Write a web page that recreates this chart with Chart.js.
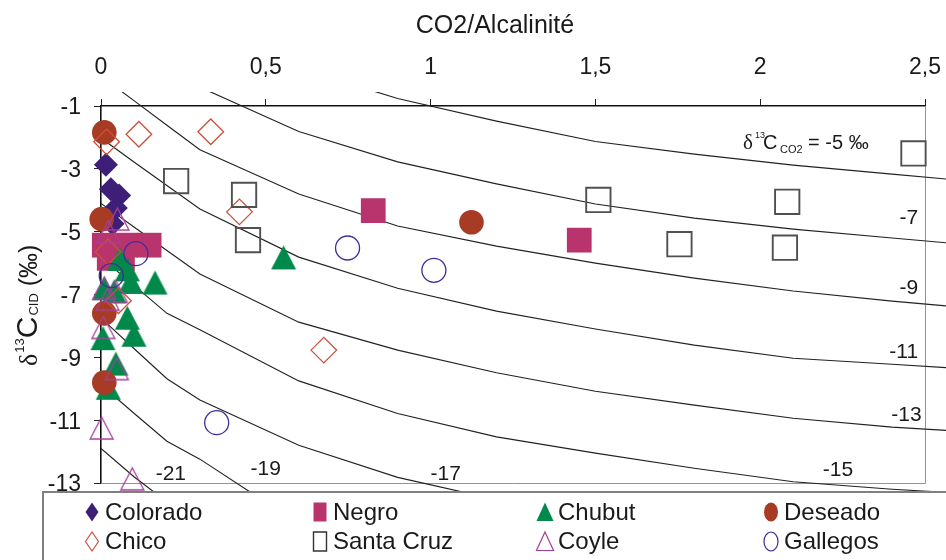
<!DOCTYPE html>
<html>
<head>
<meta charset="utf-8">
<script src="https://cdn.jsdelivr.net/npm/chart.js@4.4.0/dist/chart.umd.min.js"></script>
<style>
html,body{margin:0;padding:0;background:#ffffff;}
canvas{display:block;}
</style>
</head>
<body>
<canvas id="c" width="946" height="560"></canvas>
<script>
// ---------- axis ticks ----------
const xTickValues = [0, 0.5, 1, 1.5, 2, 2.5];
const xTickLabels = ['0', '0,5', '1', '1,5', '2', '2,5'];
const yTickValues = [-1, -3, -5, -7, -9, -11, -13];
const yTickLabels = ['-1', '-3', '-5', '-7', '-9', '-11', '-13'];

// ---------- series (CO2/Alcalinité, δ13C CID) ----------
const seriesNames = ['Colorado', 'Negro', 'Chubut', 'Deseado', 'Chico', 'Santa Cruz', 'Coyle', 'Gallegos'];

const coloradoX = [0.015, 0.03, 0.055, 0.045, 0.035];
const coloradoY = [-2.87, -3.65, -3.85, -4.25, -4.75];

const negroX = [0.01, 0.146, 0.075, 0.025, 0.065, 0.826, 1.451];
const negroY = [-5.43, -5.43, -5.43, -5.85, -5.85, -4.33, -5.27];

const chubutX = [0.554, 0.057, 0.08, 0.164, 0.09, 0.01, 0.04, 0.08, 0.1, 0.006, 0.045, 0.022];
const chubutY = [-5.82, -5.87, -6.2, -6.62, -6.6, -6.8, -6.9, -7.74, -8.28, -8.39, -9.2, -9.97];

const deseadoX = [0.01, 0.002, 0.01, 0.01, 1.124];
const deseadoY = [-1.84, -4.6, -7.6, -9.8, -4.7];

const chicoX = [0.017, 0.115, 0.333, 0.42, 0.021, 0.053, 0.676];
const chicoY = [-2.14, -1.9, -1.82, -4.37, -5.64, -7.2, -8.77];

const santaCruzX = [0.228, 0.434, 0.446, 1.509, 1.755, 2.075, 2.082, 2.465];
const santaCruzY = [-3.39, -3.83, -5.27, -3.99, -5.4, -5.51, -4.05, -2.51];

const coyleX = [0.05, 0.022, 0.01, 0.045, 0.02, 0.007, 0.048, 0.002, 0.095];
const coyleY = [-4.6, -5.0, -6.8, -6.9, -7.15, -8.05, -9.36, -11.25, -12.87];

const gallegosX = [0.106, 0.031, 0.748, 1.01, 0.351];
const gallegosY = [-5.7, -6.4, -5.52, -6.23, -11.08];

// ---------- iso-δ13C(CO2) curves ----------
const isoX = [0, 0.1, 0.2, 0.3, 0.6, 0.9, 1.2, 1.5, 1.8, 2.1, 2.4, 2.57];
const isoLevels = [-5, -7, -9, -11, -13, -15, -17, -19, -21];
const iso5  = [4.0, 3.3, 2.5, 1.6, 0.2, -0.76, -1.48, -2.13, -2.53, -2.88, -3.17, -3.33];
const iso7  = [2.0, 1.2, 0.4, -0.4, -1.81, -2.78, -3.48, -4.12, -4.57, -4.92, -5.2, -5.36];
const iso9  = [-0.05, -0.83, -1.61, -2.39, -3.8, -4.82, -5.46, -6.0, -6.48, -6.89, -7.21, -7.37];
const iso11 = [-2.02, -2.78, -3.53, -4.28, -5.81, -6.8, -7.53, -8.1, -8.61, -9.03, -9.22, -9.33];
const iso13 = [-4.1, -4.85, -5.6, -6.35, -7.88, -8.77, -9.49, -10.08, -10.52, -10.94, -11.22, -11.33];
const iso15 = [-5.82, -6.71, -7.6, -8.12, -9.75, -10.79, -11.53, -12.05, -12.53, -12.96, -13.2, -13.3];
const iso17 = [-7.75, -8.72, -9.68, -10.36, -11.8, -12.82, -13.53, -14.2, -14.8, -15.3, -15.7, -15.9];
const iso19 = [-9.87, -10.78, -11.67, -12.24, -14.3, -15.2, -15.9, -16.5, -17.0, -17.4, -17.7, -17.9];
const iso21 = [-11.9, -12.8, -13.6, -14.3, -16.0, -17.2, -18.0, -18.6, -19.1, -19.5, -19.8, -20.0];

// curve labels (text + anchor in data units)
const isoLabelText = ['-7', '-9', '-11', '-13', '-15', '-17', '-19', '-21'];
const isoLabelX = [2.479, 2.479, 2.479, 2.49, 2.236, 1.046, 0.5, 0.212];
const isoLabelY = [-4.56, -6.79, -8.83, -10.83, -12.58, -12.73, -12.55, -12.71];
const iso5LabelX = 1.948;
const iso5LabelY = -2.353;

// ---------- styling ----------
const FONT = '"Liberation Sans", Arial, sans-serif';
const SERIF = '"Liberation Serif", "Times New Roman", serif';
const TXT = '#1a1a1a';
const C_COLORADO = '#3e1f78', C_NEGRO = '#b9346c', C_CHUBUT = '#00894a', C_DESEADO = '#a83b23';
const C_CHICO = '#c9503a', C_SC = '#505050', C_COYLE = '#a5409a', C_GALLEGOS = '#3d2e98';

function triCanvas(w, h, fill, stroke, lw) {
  const c = document.createElement('canvas');
  c.width = w + 4; c.height = h + 4;
  const g = c.getContext('2d');
  g.beginPath();
  g.moveTo(c.width / 2, 2);
  g.lineTo(w + 2, h + 2);
  g.lineTo(2, h + 2);
  g.closePath();
  if (fill) { g.fillStyle = fill; g.fill(); }
  if (stroke) { g.strokeStyle = stroke; g.lineWidth = lw; g.stroke(); }
  return c;
}
const chubutTri = triCanvas(25, 24, C_CHUBUT, null, 0);
const coyleTri = triCanvas(23, 22, null, C_COYLE, 1.3);

const pts = (xs, ys) => xs.map((x, i) => ({x: x, y: ys[i]}));

function markerSet(name, xs, ys, style, radius, bg, border, bw, order) {
  return {
    label: name, data: pts(xs, ys), showLine: false,
    pointStyle: style, pointRadius: radius, pointHoverRadius: radius,
    pointBackgroundColor: bg, pointBorderColor: border, pointBorderWidth: bw,
    clip: false, order: order
  };
}

const markerDatasets = [
  markerSet('Colorado', coloradoX, coloradoY, 'rectRot', 12, C_COLORADO, C_COLORADO, 0, 8),
  markerSet('Negro', negroX, negroY, 'rect', 17.5, C_NEGRO, C_NEGRO, 0, 7),
  markerSet('Chubut', chubutX, chubutY, chubutTri, 13, C_CHUBUT, C_CHUBUT, 0, 6),
  markerSet('Deseado', deseadoX, deseadoY, 'circle', 12.3, C_DESEADO, C_DESEADO, 0, 5),
  markerSet('Chico', chicoX, chicoY, 'rectRot', 12.8, 'rgba(0,0,0,0)', C_CHICO, 1.3, 4),
  markerSet('Santa Cruz', santaCruzX, santaCruzY, 'rect', 17.2, 'rgba(0,0,0,0)', C_SC, 1.9, 3),
  markerSet('Coyle', coyleX, coyleY, coyleTri, 12, C_COYLE, C_COYLE, 0, 2),
  markerSet('Gallegos', gallegosX, gallegosY, 'circle', 12, 'rgba(0,0,0,0)', C_GALLEGOS, 1.3, 1)
];

const isoSeries = [iso5, iso7, iso9, iso11, iso13, iso15, iso17, iso19, iso21];
const curveDatasets = isoLevels.map((lvl, i) => ({
  label: 'δ13C CO2 = ' + lvl,
  data: pts(isoX, isoSeries[i]),
  showLine: true, fill: false, tension: 0,
  borderColor: '#222222', borderWidth: 1.15,
  pointRadius: 0, pointHoverRadius: 0,
  clip: {left: 0, top: 14, right: 21, bottom: 10},
  order: 20
}));

// ---------- custom drawing plugin ----------
const legendMarkerX = [92, 320, 545, 771];
const legendRowY = [512, 541.5];

function drawLegendMarker(ctx, idx, cx, cy) {
  ctx.save();
  ctx.beginPath();
  const name = seriesNames[idx];
  if (name === 'Colorado' || name === 'Chico') {
    ctx.moveTo(cx, cy - 9.5); ctx.lineTo(cx + 6.5, cy); ctx.lineTo(cx, cy + 9.5); ctx.lineTo(cx - 6.5, cy); ctx.closePath();
  } else if (name === 'Negro' || name === 'Santa Cruz') {
    ctx.rect(cx - 6.5, cy - 9.5, 13, 19);
  } else if (name === 'Chubut' || name === 'Coyle') {
    ctx.moveTo(cx, cy - 9.5); ctx.lineTo(cx + 8.5, cy + 9); ctx.lineTo(cx - 8.5, cy + 9); ctx.closePath();
  } else {
    ctx.ellipse(cx, cy, 7, 9.5, 0, 0, Math.PI * 2);
  }
  const fills = {Colorado: C_COLORADO, Negro: C_NEGRO, Chubut: C_CHUBUT, Deseado: C_DESEADO};
  const strokes = {Chico: C_CHICO, 'Santa Cruz': '#333', Coyle: C_COYLE, Gallegos: C_GALLEGOS};
  if (fills[name]) { ctx.fillStyle = fills[name]; ctx.fill(); }
  else { ctx.strokeStyle = strokes[name]; ctx.lineWidth = name === 'Santa Cruz' ? 1.4 : 1.2; ctx.stroke(); }
  ctx.restore();
}

const annotPlugin = {
  id: 'annot',
  beforeDraw(chart) {
    const ctx = chart.ctx;
    ctx.save();
    ctx.fillStyle = '#ffffff';
    ctx.fillRect(0, 0, chart.width, chart.height);
    ctx.restore();
  },
  beforeDatasetsDraw(chart) {
    const ctx = chart.ctx, a = chart.chartArea;
    ctx.save();
    ctx.strokeStyle = '#8a94a8';
    ctx.lineWidth = 1;
    ctx.beginPath();
    ctx.moveTo(a.right + 0.5, a.top);
    ctx.lineTo(a.right + 0.5, a.bottom + 0.5);
    ctx.lineTo(a.left, a.bottom + 0.5);
    ctx.stroke();
    ctx.restore();
  },
  afterDraw(chart) {
    const ctx = chart.ctx, xs = chart.scales.x, ys = chart.scales.y;
    ctx.save();
    ctx.fillStyle = TXT;

    // curve labels
    ctx.font = '21px ' + FONT;
    ctx.textBaseline = 'middle';
    isoLabelText.forEach((t, i) => {
      ctx.textAlign = i < 4 ? 'right' : 'center';
      ctx.fillText(t, xs.getPixelForValue(isoLabelX[i]), ys.getPixelForValue(isoLabelY[i]));
    });

    // δ13C CO2 = -5 ‰ label
    const lx = xs.getPixelForValue(iso5LabelX), ly = ys.getPixelForValue(iso5LabelY);
    ctx.textAlign = 'left';
    ctx.textBaseline = 'alphabetic';
    ctx.font = '21px ' + SERIF; ctx.fillText('δ', lx, ly);
    ctx.font = '9px ' + FONT; ctx.fillText('13', lx + 12, ly - 11);
    ctx.font = '20px ' + FONT; ctx.fillText('C', lx + 20, ly);
    ctx.font = '11px ' + FONT; ctx.fillText('CO2', lx + 37, ly + 4);
    ctx.font = '20px ' + FONT; ctx.fillText('= -5 ‰', lx + 65, ly);

    // x axis title
    ctx.font = '25px ' + FONT;
    ctx.textAlign = 'center';
    ctx.textBaseline = 'middle';
    ctx.fillText('CO2/Alcalinité', 495, 26);

    // y axis title (rotated)
    ctx.save();
    ctx.translate(37, 366);
    ctx.rotate(-Math.PI / 2);
    ctx.textAlign = 'left';
    ctx.textBaseline = 'alphabetic';
    let cx = 0;
    ctx.font = '26px ' + SERIF; ctx.fillText('δ', cx, 0); cx += ctx.measureText('δ').width + 1;
    ctx.font = '13px ' + FONT; ctx.fillText('13', cx, -13); cx += ctx.measureText('13').width;
    ctx.font = '30px ' + FONT; ctx.fillText('C', cx, 0); cx += ctx.measureText('C').width + 1;
    ctx.font = '13px ' + FONT; ctx.fillText('CID', cx, 1); cx += ctx.measureText('CID').width;
    ctx.font = '25px ' + FONT; ctx.fillText(' (‰)', cx, 0);
    ctx.restore();

    // legend box
    ctx.fillStyle = '#ffffff';
    ctx.fillRect(43, 492, 960, 80);
    ctx.strokeStyle = '#808080';
    ctx.lineWidth = 2;
    ctx.strokeRect(43, 492, 960, 80);
    ctx.font = '24px ' + FONT;
    ctx.fillStyle = TXT;
    ctx.textAlign = 'left';
    ctx.textBaseline = 'middle';
    seriesNames.forEach((n, i) => {
      const col = i % 4, row = Math.floor(i / 4);
      const mx = legendMarkerX[col], my = legendRowY[row];
      drawLegendMarker(ctx, i, mx, my);
      ctx.fillStyle = TXT;
      ctx.fillText(n, mx + 13, my + 1);
    });
    ctx.restore();
  }
};

new Chart(document.getElementById('c'), {
  type: 'scatter',
  data: { datasets: markerDatasets.concat(curveDatasets) },
  options: {
    responsive: false,
    animation: false,
    devicePixelRatio: 1,
    layout: { padding: { left: 0, top: 0, right: 21, bottom: 77 } },
    plugins: { legend: { display: false }, tooltip: { enabled: false } },
    scales: {
      x: {
        type: 'linear', position: 'top', min: 0, max: 2.5,
        afterBuildTicks: s => { s.ticks = xTickValues.map(v => ({ value: v })); },
        afterFit: s => { s.height = 106; s.paddingLeft = 0; s.paddingRight = 0; },
        ticks: {
          callback: v => { const i = xTickValues.indexOf(v); return i >= 0 ? xTickLabels[i] : ''; },
          font: { family: FONT, size: 23 }, color: TXT, padding: 18, maxRotation: 0, autoSkip: false
        },
        grid: { drawOnChartArea: false, drawTicks: true, tickLength: 7, color: '#222', lineWidth: 1 },
        border: { display: true, color: '#111', width: 1.6 },
        title: { display: false }
      },
      y: {
        type: 'linear', position: 'left', min: -13, max: -1,
        afterBuildTicks: s => { s.ticks = yTickValues.map(v => ({ value: v })); },
        afterFit: s => { s.width = 101; s.paddingTop = 0; s.paddingBottom = 0; },
        ticks: {
          callback: v => { const i = yTickValues.indexOf(v); return i >= 0 ? yTickLabels[i] : ''; },
          font: { family: FONT, size: 23 }, color: TXT, padding: 13, labelOffset: 2, autoSkip: false
        },
        grid: { drawOnChartArea: false, drawTicks: true, tickLength: 7, color: '#222', lineWidth: 1 },
        border: { display: true, color: '#111', width: 1.6 },
        title: { display: false }
      }
    }
  },
  plugins: [annotPlugin]
});
</script>
</body>
</html>
